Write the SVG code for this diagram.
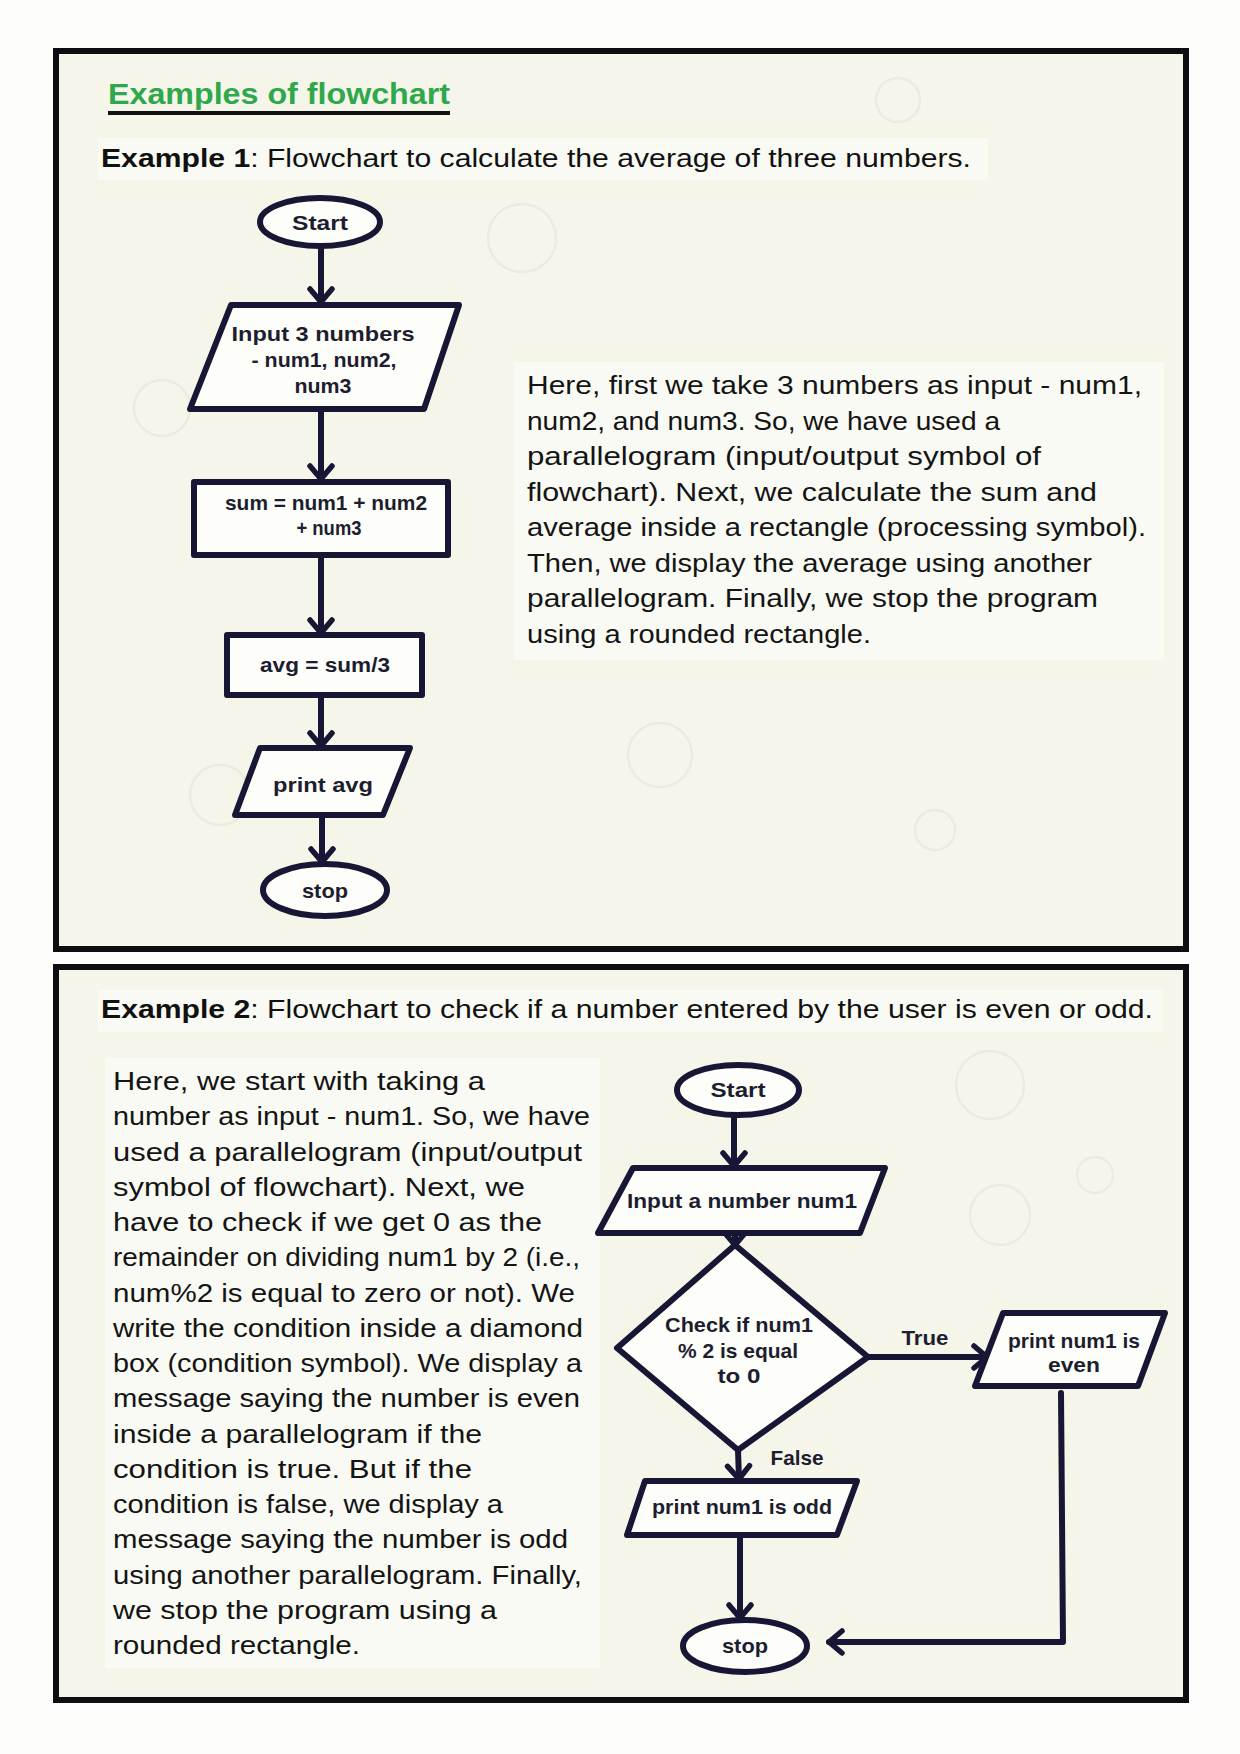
<svg xmlns="http://www.w3.org/2000/svg" width="1240" height="1754" viewBox="0 0 1240 1754">
<defs>
<style>
.frame{fill:#f5f5ea;stroke:#0d0d12;stroke-width:6}
.panel{fill:#fafaf4;stroke:none}
.doodle{fill:none;stroke:#ebebdf;stroke-width:2.5}
.shape{fill:#fdfdf9;stroke:#171735;stroke-width:6;stroke-linejoin:round}
.conn{fill:none;stroke:#171735;stroke-width:6;stroke-linecap:round;stroke-linejoin:round}
.nt{font-family:"Liberation Sans",Arial,sans-serif;font-weight:bold;font-size:21px;fill:#1d1d30;text-anchor:middle}
.para{font-family:"Liberation Sans",Arial,sans-serif;font-size:25px;fill:#141414}
.para2{font-family:"Liberation Sans",Arial,sans-serif;font-size:25px;fill:#141414}
.head{font-family:"Liberation Sans",Arial,sans-serif;font-size:25px;fill:#111}
.title{font-family:"Liberation Sans",Arial,sans-serif;font-weight:bold;font-size:30px;fill:#2ea84b}
</style>
<marker id="arr" markerUnits="userSpaceOnUse" markerWidth="40" markerHeight="40" viewBox="-20 -20 40 40" refX="0" refY="0" orient="auto" overflow="visible">
<path d="M-13,-11 L0,0 L-13,11" fill="none" stroke="#171735" stroke-width="5.5" stroke-linecap="round" stroke-linejoin="round"/>
</marker>
</defs>
<rect x="0" y="0" width="1240" height="1754" fill="#fdfdfb"/>
<g id="frame1">
<rect class="frame" x="56" y="51" width="1130" height="898"/>
<circle class="doodle" cx="522" cy="238" r="34"/>
<circle class="doodle" cx="898" cy="100" r="22"/>
<circle class="doodle" cx="162" cy="408" r="28"/>
<circle class="doodle" cx="660" cy="755" r="32"/>
<circle class="doodle" cx="935" cy="830" r="20"/>
<circle class="doodle" cx="220" cy="795" r="30"/>
<rect class="panel" x="98" y="138" width="890" height="42"/>
<rect class="panel" x="514" y="362" width="650" height="298"/>
</g>
<g id="frame2">
<rect class="frame" x="56" y="967" width="1130" height="733"/>
<circle class="doodle" cx="990" cy="1085" r="34"/>
<circle class="doodle" cx="1000" cy="1215" r="30"/>
<circle class="doodle" cx="1095" cy="1175" r="18"/>
<rect class="panel" x="98" y="990" width="1065" height="42"/>
<rect class="panel" x="105" y="1058" width="495" height="610"/>
</g>
<g id="title">
<text class="title" x="108" y="104" textLength="342" lengthAdjust="spacingAndGlyphs">Examples of flowchart</text>
<line x1="108" y1="113" x2="450" y2="113" stroke="#111" stroke-width="4"/>
</g>
<g id="heading1">
<text class="head" x="101" y="167" textLength="870" lengthAdjust="spacingAndGlyphs"><tspan font-weight="bold">Example 1</tspan>: Flowchart to calculate the average of three numbers.</text>
</g>
<g id="heading2">
<text class="head" x="101" y="1018" textLength="1052" lengthAdjust="spacingAndGlyphs"><tspan font-weight="bold">Example 2</tspan>: Flowchart to check if a number entered by the user is even or odd.</text>
</g>
<g id="para1" class="para">
<text x="527" y="394" textLength="615" lengthAdjust="spacingAndGlyphs">Here, first we take 3 numbers as input - num1,</text>
<text x="527" y="429.5" textLength="473" lengthAdjust="spacingAndGlyphs">num2, and num3. So, we have used a</text>
<text x="527" y="465" textLength="514" lengthAdjust="spacingAndGlyphs">parallelogram (input/output symbol of</text>
<text x="527" y="500.5" textLength="570" lengthAdjust="spacingAndGlyphs">flowchart). Next, we calculate the sum and</text>
<text x="527" y="536" textLength="619" lengthAdjust="spacingAndGlyphs">average inside a rectangle (processing symbol).</text>
<text x="527" y="571.5" textLength="565" lengthAdjust="spacingAndGlyphs">Then, we display the average using another</text>
<text x="527" y="607" textLength="571" lengthAdjust="spacingAndGlyphs">parallelogram. Finally, we stop the program</text>
<text x="527" y="642.5" textLength="344" lengthAdjust="spacingAndGlyphs">using a rounded rectangle.</text>
</g>
<g id="para2" class="para2">
<text x="113" y="1090" textLength="372" lengthAdjust="spacingAndGlyphs">Here, we start with taking a</text>
<text x="113" y="1125.25" textLength="477" lengthAdjust="spacingAndGlyphs">number as input - num1. So, we have</text>
<text x="113" y="1160.5" textLength="469" lengthAdjust="spacingAndGlyphs">used a parallelogram (input/output</text>
<text x="113" y="1195.75" textLength="412" lengthAdjust="spacingAndGlyphs">symbol of flowchart). Next, we</text>
<text x="113" y="1231" textLength="429" lengthAdjust="spacingAndGlyphs">have to check if we get 0 as the</text>
<text x="113" y="1266.25" textLength="467" lengthAdjust="spacingAndGlyphs">remainder on dividing num1 by 2 (i.e.,</text>
<text x="113" y="1301.5" textLength="462" lengthAdjust="spacingAndGlyphs">num%2 is equal to zero or not). We</text>
<text x="113" y="1336.75" textLength="470" lengthAdjust="spacingAndGlyphs">write the condition inside a diamond</text>
<text x="113" y="1372" textLength="469" lengthAdjust="spacingAndGlyphs">box (condition symbol). We display a</text>
<text x="113" y="1407.25" textLength="467" lengthAdjust="spacingAndGlyphs">message saying the number is even</text>
<text x="113" y="1442.5" textLength="369" lengthAdjust="spacingAndGlyphs">inside a parallelogram if the</text>
<text x="113" y="1477.75" textLength="359" lengthAdjust="spacingAndGlyphs">condition is true. But if the</text>
<text x="113" y="1513" textLength="390" lengthAdjust="spacingAndGlyphs">condition is false, we display a</text>
<text x="113" y="1548.25" textLength="455" lengthAdjust="spacingAndGlyphs">message saying the number is odd</text>
<text x="113" y="1583.5" textLength="469" lengthAdjust="spacingAndGlyphs">using another parallelogram. Finally,</text>
<text x="113" y="1618.75" textLength="384" lengthAdjust="spacingAndGlyphs">we stop the program using a</text>
<text x="113" y="1654" textLength="247" lengthAdjust="spacingAndGlyphs">rounded rectangle.</text>
</g>
<g id="connectors">
<line class="conn" x1="321" y1="248" x2="321" y2="302" marker-end="url(#arr)"/>
<line class="conn" x1="321" y1="410" x2="321" y2="479" marker-end="url(#arr)"/>
<line class="conn" x1="321" y1="556" x2="321" y2="633" marker-end="url(#arr)"/>
<line class="conn" x1="321" y1="695" x2="321" y2="746" marker-end="url(#arr)"/>
<line class="conn" x1="322" y1="815" x2="322" y2="862" marker-end="url(#arr)"/>
<line class="conn" x1="734" y1="1115" x2="734" y2="1166" marker-end="url(#arr)"/>
<line class="conn" x1="735" y1="1233" x2="735" y2="1245" marker-end="url(#arr)"/>
<line class="conn" x1="869" y1="1357" x2="987" y2="1357" marker-end="url(#arr)"/>
<line class="conn" x1="738" y1="1450" x2="739" y2="1479" marker-end="url(#arr)"/>
<line class="conn" x1="740" y1="1535" x2="740" y2="1618" marker-end="url(#arr)"/>
<polyline class="conn" points="1061,1393 1063,1642 829,1642" marker-end="url(#arr)"/>
</g>
<g id="fc1-start">
<ellipse class="shape" cx="320" cy="222" rx="60" ry="24"/>
<text class="nt" x="320" y="230" textLength="56" lengthAdjust="spacingAndGlyphs">Start</text>
</g>
<g id="fc1-input">
<polygon class="shape" points="231,305 459,305 424,409 190,409"/>
<text class="nt" x="323" y="341" textLength="183" lengthAdjust="spacingAndGlyphs">Input 3 numbers</text>
<text class="nt" x="324" y="367" textLength="145" lengthAdjust="spacingAndGlyphs">- num1, num2,</text>
<text class="nt" x="323" y="393" textLength="57" lengthAdjust="spacingAndGlyphs">num3</text>
</g>
<g id="fc1-sum">
<rect class="shape" x="194" y="482" width="254" height="73"/>
<text class="nt" x="326" y="510" textLength="202" lengthAdjust="spacingAndGlyphs">sum = num1 + num2</text>
<text class="nt" x="329" y="535" textLength="65" lengthAdjust="spacingAndGlyphs">+ num3</text>
</g>
<g id="fc1-avg">
<rect class="shape" x="227" y="635" width="195" height="60"/>
<text class="nt" x="325" y="672" textLength="130" lengthAdjust="spacingAndGlyphs">avg = sum/3</text>
</g>
<g id="fc1-print">
<polygon class="shape" points="260,748 410,748 383,815 235,815"/>
<text class="nt" x="323" y="792" textLength="100" lengthAdjust="spacingAndGlyphs">print avg</text>
</g>
<g id="fc1-stop">
<ellipse class="shape" cx="325" cy="890" rx="62" ry="26"/>
<text class="nt" x="325" y="898" textLength="46" lengthAdjust="spacingAndGlyphs">stop</text>
</g>
<g id="fc2-start">
<ellipse class="shape" cx="738" cy="1090" rx="61" ry="25"/>
<text class="nt" x="738" y="1097" textLength="55" lengthAdjust="spacingAndGlyphs">Start</text>
</g>
<g id="fc2-input">
<polygon class="shape" points="633,1168 885,1168 860,1233 598,1233"/>
<text class="nt" x="742" y="1208" textLength="230" lengthAdjust="spacingAndGlyphs">Input a number num1</text>
</g>
<g id="fc2-check">
<polygon class="shape" points="735,1245 868,1357 738,1450 617,1348"/>
<text class="nt" x="739" y="1332" textLength="148" lengthAdjust="spacingAndGlyphs">Check if num1</text>
<text class="nt" x="738" y="1358" textLength="120" lengthAdjust="spacingAndGlyphs">% 2 is equal</text>
<text class="nt" x="739" y="1383" textLength="43" lengthAdjust="spacingAndGlyphs">to 0</text>
</g>
<g id="labels">
<text class="nt" x="925" y="1345" textLength="47" lengthAdjust="spacingAndGlyphs">True</text>
<text class="nt" x="797" y="1465" textLength="53" lengthAdjust="spacingAndGlyphs">False</text>
</g>
<g id="fc2-even">
<polygon class="shape" points="1003,1313 1165,1313 1138,1386 975,1386"/>
<text class="nt" x="1074" y="1348" textLength="132" lengthAdjust="spacingAndGlyphs">print num1 is</text>
<text class="nt" x="1074" y="1372" textLength="52" lengthAdjust="spacingAndGlyphs">even</text>
</g>
<g id="fc2-odd">
<polygon class="shape" points="645,1481 857,1481 837,1535 627,1535"/>
<text class="nt" x="742" y="1514" textLength="180" lengthAdjust="spacingAndGlyphs">print num1 is odd</text>
</g>
<g id="fc2-stop">
<ellipse class="shape" cx="745" cy="1646" rx="62" ry="26"/>
<text class="nt" x="745" y="1653" textLength="46" lengthAdjust="spacingAndGlyphs">stop</text>
</g>
</svg>
